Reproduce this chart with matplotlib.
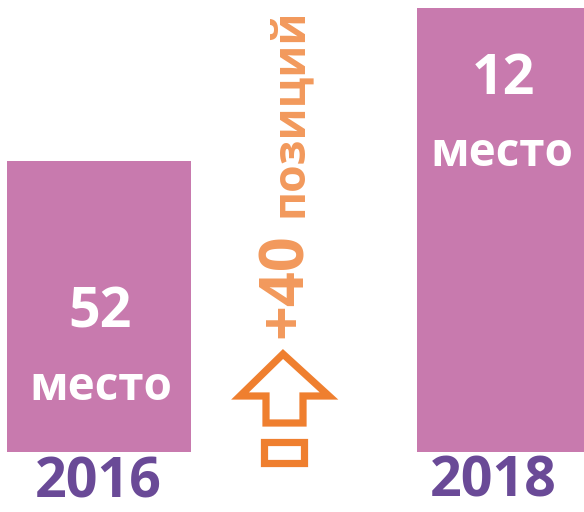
import matplotlib
matplotlib.use("Agg")
import matplotlib.pyplot as plt
import numpy as np
from matplotlib.patches import Polygon, Rectangle

# Rating positions by year (lower rank = better, drawn as a taller bar)
years = ["2016", "2018"]
ranks = [52, 12]
rank_labels = ["52\nместо", "12\nместо"]
gain_label = "+40"
gain_word = "позиций"

W, H = 584, 512
BAR_COLOR = "#C87AAE"
YEAR_COLOR = "#6A4A97"
TEXT_ORANGE = "#F2995C"
ARROW_ORANGE = "#EF7F2F"
FONT = "Open Sans"

fig = plt.figure(figsize=(W / 100, H / 100), dpi=100)
fig.patch.set_facecolor("white")

# Main axes: inverted rank scale, bars grow upward from a common base rank
ax = fig.add_axes([0, 0, 1, 1])
base_rank = 128
ax.set_xlim(0, W)
ax.set_ylim(143.7, 9.9)
ax.axis("off")

bar_x = [98.5, 508.5]
bar_w = 184
heights = np.array(ranks) - base_rank
ax.bar(bar_x, heights, bottom=base_rank, width=bar_w, color=BAR_COLOR,
       edgecolor="none")

# Overlay in pixel coordinates for labels and the arrow glyph
ov = fig.add_axes([0, 0, 1, 1], facecolor="none")
ov.set_xlim(0, W)
ov.set_ylim(H, 0)
ov.axis("off")

# Rank labels inside the bars
num_pos = [(100, 313), (503, 79)]
word_pos = [(101, 387), (502, 154)]
for lab, (nx, ny), (wx, wy) in zip(rank_labels, num_pos, word_pos):
    num, word = lab.split("\n")
    ov.text(nx, ny, num, color="white", fontsize=40, fontweight="bold",
            family=FONT, ha="center", va="center")
    ov.text(wx, wy, word, color="white", fontsize=33, fontweight="bold",
            family=FONT, ha="center", va="center")

# Year labels under the bars
year_pos = [(98, 483), (493, 482)]
for yr, (x, y) in zip(years, year_pos):
    ov.text(x, y, yr, color=YEAR_COLOR, fontsize=40, fontweight="bold",
            family=FONT, ha="center", va="center")

# Vertical "+40 позиций" caption
ov.text(302, 338, gain_label, color=TEXT_ORANGE, fontsize=44,
        fontweight="bold", family=FONT, rotation=90, rotation_mode="anchor",
        ha="left", va="baseline")
ov.text(302, 217, gain_word, color=TEXT_ORANGE, fontsize=32,
        fontweight="bold", family=FONT, rotation=90, rotation_mode="anchor",
        ha="left", va="baseline")

# Outlined up-arrow with a small box beneath
arrow_pts = [(283, 354), (240, 396), (266, 396), (266, 423),
             (303, 423), (303, 396), (329, 396)]
ov.add_patch(Polygon(arrow_pts, closed=True, fill=False,
                     edgecolor=ARROW_ORANGE, linewidth=5.2, joinstyle="miter"))
ov.add_patch(Rectangle((263.5, 441.5), 40, 21, fill=False,
                       edgecolor=ARROW_ORANGE, linewidth=5.2))

fig.savefig("out.png", dpi=100, facecolor="white")
